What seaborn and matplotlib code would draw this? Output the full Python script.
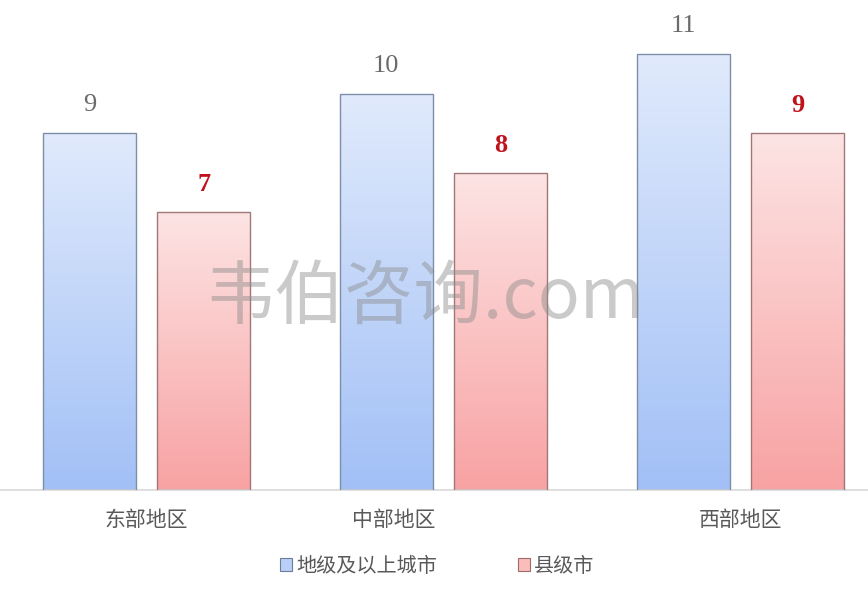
import numpy as np
import pandas as pd
import matplotlib
matplotlib.use("Agg")
import matplotlib.pyplot as plt
import matplotlib.transforms as mtransforms
from matplotlib.colors import LinearSegmentedColormap
from matplotlib.patches import Patch
import seaborn as sns

# data
regions = ["东部地区", "中部地区", "西部地区"]
series = ["地级及以上城市", "县级市"]
city_level = [9, 10, 11]
county_level = [7, 8, 9]

df = pd.DataFrame({
    "region": regions * 2,
    "type": [series[0]] * 3 + [series[1]] * 3,
    "value": city_level + county_level,
})

sns.set_theme(style="white")
plt.rcParams["font.family"] = ["Noto Sans CJK SC", "DejaVu Sans"]

fig = plt.figure(figsize=(8.68, 5.91), dpi=100)
ax = fig.add_axes([0, 1 - 490 / 591, 1, 490 / 591])

sns.barplot(data=df, x="region", y="value", hue="type", order=regions,
            hue_order=series, width=0.77, gap=0.19, ax=ax, legend=False,
            palette=["#c3d6f9", "#fbc6c6"])

# gradient fills
top_cols = {0: "#e0eafc", 1: "#fde4e4"}
bot_cols = {0: "#a2c0f6", 1: "#f8a2a3"}
edge_cols = {0: "#7d8ea6", 1: "#a07878"}
grad = np.linspace(0, 1, 256).reshape(-1, 1)
for i, bar in enumerate(ax.patches[:6]):
    s = i // 3
    cmap = LinearSegmentedColormap.from_list("g", [top_cols[s], bot_cols[s]])
    x0, y0 = bar.get_x(), bar.get_y()
    w, h = bar.get_width(), bar.get_height()
    im = ax.imshow(grad, cmap=cmap, aspect="auto",
                   extent=[x0, x0 + w, y0, y0 + h], origin="upper", zorder=2)
    im.set_clip_path(bar)
    bar.set_facecolor("none")
    bar.set_edgecolor(edge_cols[s])
    bar.set_linewidth(1.0)
    bar.set_zorder(3)
    val = city_level[i % 3] if s == 0 else county_level[i % 3]
    if s == 0:
        ax.annotate(str(val), (x0 + w / 2, y0 + h), xytext=(0, 20),
                    textcoords="offset points", ha="center", va="center",
                    fontsize=19, color="#6a6a6a", family="Liberation Serif")
    else:
        ax.annotate(str(val), (x0 + w / 2, y0 + h), xytext=(0, 20),
                    textcoords="offset points", ha="center", va="center",
                    fontsize=19, color="#c0121c", fontweight="bold",
                    family="Liberation Serif")

ax.set_xlim(-0.493, 2.429)
ax.set_ylim(0, 12.36)

ax.set_xlabel("")
ax.set_ylabel("")
ax.set_yticks([])
ax.tick_params(axis="x", length=0, pad=14, labelsize=15, labelcolor="#595959")
for sp in ["top", "left", "right"]:
    ax.spines[sp].set_visible(False)
ax.spines["bottom"].set_color("#d9d9d9")
ax.spines["bottom"].set_linewidth(1.2)

# middle category label sits left of its group in the original
lbl = ax.get_xticklabels()[1]
lbl.set_transform(lbl.get_transform() +
                  mtransforms.ScaledTranslation(-50 / 100, 0, fig.dpi_scale_trans))

# watermark
fig.text(425 / 868, 1 - 298 / 591, "韦伯咨询.com", fontsize=50,
         color="#8a8a8a", alpha=0.45, ha="center", va="center", zorder=10)

handles = [Patch(facecolor="#b9cff8", edgecolor="#6d7f96", lw=0.8),
           Patch(facecolor="#fbbcbc", edgecolor="#9c6b6b", lw=0.8)]
fig.legend(handles, series, loc="center", bbox_to_anchor=(437 / 868, 1 - 566 / 591),
           ncol=2, frameon=False, fontsize=14.5, labelcolor="#595959",
           handlelength=0.6, handleheight=0.6, handletextpad=0.2,
           columnspacing=4.0)

fig.savefig("out.png", dpi=100)
